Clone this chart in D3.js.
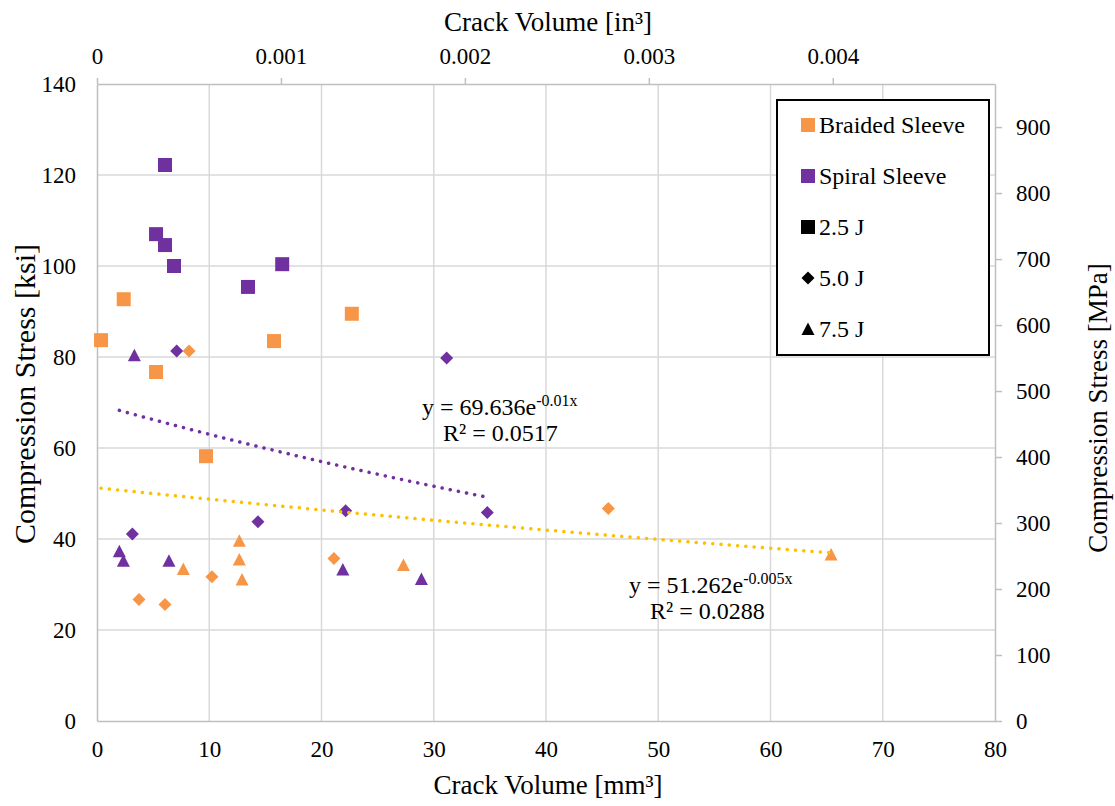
<!DOCTYPE html>
<html>
<head>
<meta charset="utf-8">
<script src="https://cdn.jsdelivr.net/npm/d3@7"></script>
<style>
body { margin: 0; background: #fff; }
text { font-family: "Liberation Serif", "Times New Roman", serif; fill: #000; }
</style>
</head>
<body>
<svg id="chart" width="1115" height="806"></svg>
<script>

var xTicks = [0, 10, 20, 30, 40, 50, 60, 70, 80];
var yTicks = [0, 20, 40, 60, 80, 100, 120, 140];
var mpaTicks = [0, 100, 200, 300, 400, 500, 600, 700, 800, 900];
var inTicks = [0, 0.001, 0.002, 0.003, 0.004];

// [crack volume mm3, stress ksi]
var braided25 = [[0.36, 83.7], [2.38, 92.7], [5.26, 76.7], [9.71, 58.2], [15.77, 83.5], [22.7, 89.5]];
var braided50 = [[3.74, 26.7], [6.06, 25.6], [8.2, 81.3], [10.24, 31.7], [21.11, 35.7], [45.55, 46.7]];
var braided75 = [[7.69, 33.4], [12.68, 39.6], [12.68, 35.5], [12.92, 31.1], [27.3, 34.3], [65.4, 36.6]];

var spiral25 = [[6.06, 122.2], [5.26, 107.0], [6.06, 104.6], [6.86, 100.0], [16.5, 100.4], [13.45, 95.4]];
var spiral50 = [[3.15, 41.1], [7.1, 81.3], [14.34, 43.8], [22.15, 46.2], [31.15, 79.8], [34.77, 45.8]];
var spiral75 = [[1.99, 37.3], [2.35, 35.2], [3.33, 80.4], [6.41, 35.2], [21.9, 33.3], [28.9, 31.2]];

// exponential trendlines y = a * e^(b x)
var spiralFit = [69.636, -0.01];
var braidedFit = [51.262, -0.005];

var legendLabels = ["Braided Sleeve", "Spiral Sleeve", "2.5 J", "5.0 J", "7.5 J"];

var orange = "#f79646", purple = "#7030a0", gold = "#ffc000";

var svg = d3.select("#chart");

var x = d3.scaleLinear().domain([0, 80]).range([97, 995]);
var y = d3.scaleLinear().domain([0, 140]).range([721, 84]);
var xIn = d3.scaleLinear().domain([0, 80 / 16387.064]).range([97, 995]);
var yMpa = d3.scaleLinear().domain([0, 140 * 6.894757]).range([721, 84]);

// Grid
svg.append("g").selectAll("line")
.data(xTicks.slice(1, -1))
.enter().append("line")
.attr("x1", function (d) { return x(d); })
.attr("x2", function (d) { return x(d); })
.attr("y1", y(0)).attr("y2", y(140))
.style("stroke", "#d9d9d9").style("stroke-width", 1.5);

svg.append("g").selectAll("line")
.data(yTicks.slice(1, -1))
.enter().append("line")
.attr("x1", x(0)).attr("x2", x(80))
.attr("y1", function (d) { return y(d); })
.attr("y2", function (d) { return y(d); })
.style("stroke", "#d9d9d9").style("stroke-width", 1.5);

// Axes
function styleAxis(g) {
	g.attr("font-family", null).attr("font-size", null);
	g.selectAll("path, line").style("stroke", "#bfbfbf").style("stroke-width", 1.5);
	g.selectAll("text").attr("fill", "#000").style("font-size", "23px");
}

svg.append("g")
.attr("transform", "translate(0," + y(0) + ")")
.call(d3.axisBottom(x).tickValues(xTicks).tickSize(0).tickPadding(20))
.call(styleAxis);

svg.append("g")
.attr("transform", "translate(" + x(0) + ",0)")
.call(d3.axisLeft(y).tickValues(yTicks).tickSize(0).tickPadding(21))
.call(styleAxis);

svg.append("g")
.attr("transform", "translate(" + x(80) + ",0)")
.call(d3.axisRight(yMpa).tickValues(mpaTicks).tickSize(7).tickSizeOuter(0).tickPadding(14))
.call(styleAxis);

svg.append("g")
.attr("transform", "translate(0," + y(140) + ")")
.call(d3.axisTop(xIn).tickValues(inTicks).tickSize(6).tickSizeOuter(0).tickPadding(14)
	.tickFormat(function (d) { return d === 0 ? "0" : d3.format(".3f")(d); }))
.call(styleAxis);

// Markers
function markerPath(shape) {
	if (shape == "square") return "M-7,-7h14v14h-14z";
	if (shape == "diamond") return "M0,-6.5L6.5,0L0,6.5L-6.5,0z";
	return "M0,-6.5L6.5,6L-6.5,6z";
}

var groups = [
	{data: spiral25, color: purple, shape: "square"},
	{data: spiral50, color: purple, shape: "diamond"},
	{data: spiral75, color: purple, shape: "triangle"},
	{data: braided25, color: orange, shape: "square"},
	{data: braided50, color: orange, shape: "diamond"},
	{data: braided75, color: orange, shape: "triangle"}
];

groups.forEach(function (grp) {
	svg.append("g").selectAll("path")
	.data(grp.data)
	.enter().append("path")
	.attr("d", markerPath(grp.shape))
	.attr("transform", function (d) { return "translate(" + x(d[0]) + "," + y(d[1]) + ")"; })
	.style("fill", grp.color);
});

// Trendlines
function drawTrend(fit, series, color) {
	var all = [].concat.apply([], series);
	var ext = d3.extent(all, function (d) { return d[0]; });
	var pts = d3.range(0, 41).map(function (i) {
		var v = ext[0] + (ext[1] - ext[0]) * i / 40;
		return [v, fit[0] * Math.exp(fit[1] * v)];
	});
	svg.append("path")
	.attr("d", d3.line().x(function (d) { return x(d[0]); }).y(function (d) { return y(d[1]); })(pts))
	.style("fill", "none")
	.style("stroke", color)
	.style("stroke-width", 3.5)
	.style("stroke-linecap", "round")
	.style("stroke-dasharray", "0.1 8.2");
}

drawTrend(spiralFit, [spiral25, spiral50, spiral75], purple);
drawTrend(braidedFit, [braided25, braided50, braided75], gold);

// Equations
function equation(px, py, fit, r2) {
	var t = svg.append("text").attr("x", px).attr("y", py).style("font-size", "24px");
	t.append("tspan").text("y = " + fit[0] + "e");
	t.append("tspan").attr("dy", -9).style("font-size", "16px").text(fit[1] + "x");
	svg.append("text").attr("x", px + 21).attr("y", py + 26).style("font-size", "24px").text("R\u00b2 = " + r2);
}

equation(422, 415, spiralFit, "0.0517");
equation(629, 593, braidedFit, "0.0288");

// Legend
var legend = svg.append("g").attr("transform", "translate(777,100)");

legend.append("rect")
.attr("width", 212).attr("height", 255)
.style("fill", "#fff").style("stroke", "#000").style("stroke-width", 2);

var legendShapes = ["square", "square", "square", "diamond", "triangle"];
var legendColors = [orange, purple, "#000", "#000", "#000"];

var items = legend.selectAll(".item")
.data(legendLabels)
.enter().append("g")
.attr("class", "item")
.attr("transform", function (d, i) { return "translate(31," + (25 + i * 51) + ")"; });

items.append("path")
.attr("d", function (d, i) { return markerPath(legendShapes[i]); })
.style("fill", function (d, i) { return legendColors[i]; });

items.append("text")
.attr("x", 11).attr("dy", "0.35em")
.style("font-size", "24px")
.text(function (d) { return d; });

// Titles
svg.append("text")
.attr("x", 548).attr("y", 794)
.attr("text-anchor", "middle").style("font-size", "27px")
.text("Crack Volume [mm\u00b3]");

svg.append("text")
.attr("x", 548).attr("y", 31)
.attr("text-anchor", "middle").style("font-size", "27px")
.text("Crack Volume [in\u00b3]");

svg.append("text")
.attr("transform", "translate(35,394) rotate(-90)")
.attr("text-anchor", "middle").style("font-size", "30px")
.text("Compression Stress [ksi]");

svg.append("text")
.attr("transform", "translate(1107,408) rotate(-90)")
.attr("text-anchor", "middle").style("font-size", "27px")
.text("Compression Stress [MPa]");

</script>
</body>
</html>
